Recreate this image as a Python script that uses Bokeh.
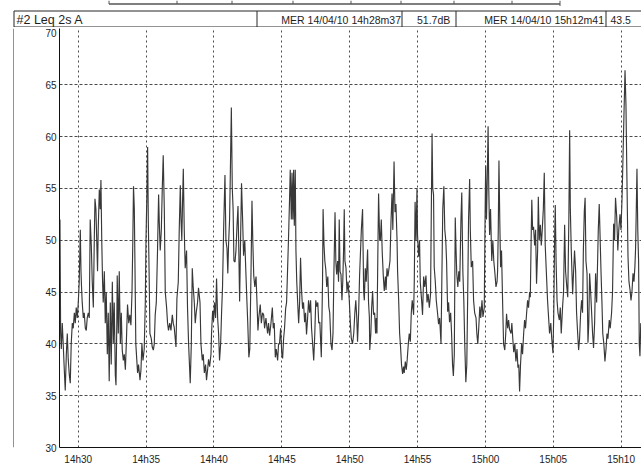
from bokeh.plotting import figure
from bokeh.models import FixedTicker, Range1d
from bokeh.layouts import column, row
from bokeh.embed import file_html
from bokeh.resources import INLINE
from bokeh.core.properties import value

# ---------------- data ----------------
# time in minutes after 14h00, Leq 2s A level in dB
times_min = [
    28.60, 28.65, 28.70, 28.75, 28.82, 28.89, 28.97, 29.04, 29.12, 29.19, 29.26, 29.34, 29.41, 29.48,
    29.56, 29.63, 29.71, 29.78, 29.85, 29.93, 30.00, 30.07, 30.15, 30.20, 30.24, 30.29, 30.37, 30.44,
    30.52, 30.59, 30.66, 30.74, 30.81, 30.88, 30.96, 31.03, 31.11, 31.18, 31.23, 31.30, 31.36, 31.42,
    31.47, 31.55, 31.62, 31.67, 31.73, 31.79, 31.84, 31.92, 31.99, 32.06, 32.14, 32.21, 32.28, 32.36,
    32.43, 32.51, 32.58, 32.65, 32.73, 32.78, 32.84, 32.87, 32.95, 33.02, 33.10, 33.17, 33.24, 33.32,
    33.39, 33.47, 33.54, 33.63, 33.72, 33.80, 33.88, 33.96,
    34.02, 34.07, 34.13, 34.18, 34.24, 34.31, 34.37, 34.44, 34.55, 34.62, 34.69, 34.77, 34.86, 34.94,
    34.99, 35.05, 35.11, 35.16, 35.23, 35.28, 35.38, 35.45, 35.53, 35.60, 35.67, 35.75, 35.84, 35.92,
    35.97, 36.04, 36.12, 36.19, 36.26, 36.34, 36.41, 36.51, 36.58, 36.65, 36.74, 36.83, 36.93, 37.00,
    37.07, 37.20, 37.27, 37.37, 37.44, 37.52, 37.57, 37.63, 37.69, 37.74, 37.81, 37.88, 37.98, 38.05,
    38.13, 38.25, 38.33, 38.40, 38.47, 38.55, 38.62, 38.69, 38.79, 38.86, 38.97, 39.04, 39.14, 39.21,
    39.29, 39.38, 39.45, 39.53,
    39.60, 39.68, 39.78, 39.82, 39.90, 39.97, 40.04, 40.12, 40.19, 40.27, 40.34, 40.41, 40.49, 40.56,
    40.63, 40.71, 40.81, 40.88, 40.96, 41.02, 41.08, 41.15, 41.20, 41.28, 41.35, 41.41, 41.47, 41.55,
    41.62, 41.70, 41.77, 41.83, 41.89, 41.96, 42.03, 42.11, 42.18, 42.27, 42.34, 42.43, 42.49, 42.57,
    42.64, 42.73, 42.80, 42.86, 42.93, 43.01, 43.10, 43.17, 43.24, 43.30, 43.41, 43.49, 43.58, 43.66,
    43.73, 43.83, 43.95, 44.02, 44.10, 44.20, 44.30, 44.37, 44.44, 44.52, 44.59, 44.69, 44.76, 44.83,
    44.91, 45.00,
    45.06, 45.13, 45.20, 45.28, 45.35, 45.42, 45.50, 45.57, 45.62, 45.70, 45.75, 45.81, 45.87, 45.92,
    45.99, 46.04, 46.10, 46.16, 46.24, 46.31, 46.38, 46.46, 46.53, 46.60, 46.68, 46.75, 46.82, 46.90,
    46.97, 47.05, 47.12, 47.19, 47.27, 47.35, 47.43, 47.50, 47.58, 47.65, 47.72, 47.80, 47.91, 48.00,
    48.04, 48.11, 48.17, 48.24, 48.31, 48.39, 48.46, 48.53, 48.62, 48.70, 48.77, 48.84, 48.92, 48.98,
    49.04, 49.11, 49.18, 49.23, 49.29, 49.36, 49.43, 49.49, 49.55, 49.60, 49.65, 49.73, 49.80, 49.88,
    49.97, 50.05, 50.12, 50.21, 50.30, 50.38,
    50.45, 50.52, 50.58, 50.66, 50.73, 50.80, 50.86, 50.95, 51.03, 51.08, 51.15, 51.22, 51.32, 51.39,
    51.45, 51.48, 51.56, 51.62, 51.69, 51.76, 51.84, 51.91, 51.96, 52.01, 52.07, 52.13, 52.21, 52.26,
    52.33, 52.40, 52.48, 52.55, 52.63, 52.68, 52.75, 52.82, 52.90, 52.97, 53.05, 53.12, 53.18, 53.27,
    53.34, 53.41, 53.49, 53.53, 53.61, 53.68, 53.75, 53.82, 53.90, 53.97, 54.02, 54.10, 54.17, 54.24,
    54.32, 54.39, 54.47, 54.54, 54.61, 54.71, 54.76, 54.82, 54.89, 54.96, 55.00, 55.08, 55.15, 55.20,
    55.30, 55.37, 55.45, 55.53, 55.62, 55.70, 55.78, 55.87, 55.96,
    56.01, 56.07, 56.12, 56.18, 56.23, 56.31, 56.38, 56.48, 56.55, 56.63, 56.73, 56.79, 56.86, 56.94,
    57.01, 57.08, 57.14, 57.22, 57.29, 57.36, 57.44, 57.51, 57.58, 57.64, 57.71, 57.78, 57.84, 57.89,
    57.97, 58.04, 58.11, 58.20, 58.26, 58.34, 58.41, 58.48, 58.56, 58.63, 58.70, 58.76, 58.84, 58.89,
    58.96, 59.06, 59.13, 59.21, 59.31, 59.37, 59.44, 59.51, 59.59, 59.66, 59.75, 59.82, 59.92, 59.96,
    60.02, 60.08, 60.14, 60.20, 60.25, 60.31, 60.38, 60.47, 60.55, 60.62, 60.69, 60.78, 60.86, 60.90,
    60.95, 61.00, 61.06, 61.12, 61.19, 61.27, 61.34, 61.43, 61.50, 61.56, 61.64,
    61.71, 61.78, 61.89, 61.95, 62.02, 62.09, 62.17, 62.25, 62.33, 62.40, 62.46, 62.52, 62.59, 62.67,
    62.74, 62.82, 62.89, 62.96, 63.04, 63.11, 63.18, 63.26, 63.31, 63.36, 63.42, 63.48, 63.55, 63.63,
    63.70, 63.77, 63.85, 63.90, 63.97, 64.05, 64.12, 64.19, 64.27, 64.34, 64.41, 64.49, 64.58, 64.66,
    64.73, 64.82, 64.89, 64.98, 65.04, 65.10, 65.15, 65.21, 65.28, 65.35, 65.45, 65.52, 65.59, 65.69,
    65.76, 65.84, 65.91, 66.00, 66.07, 66.15, 66.21, 66.26, 66.33, 66.43, 66.50, 66.57, 66.65, 66.72,
    66.80, 66.87, 66.94, 67.02, 67.09, 67.16,
    67.22, 67.29, 67.35, 67.41, 67.49, 67.56, 67.62, 67.68, 67.75, 67.83, 67.90, 67.97, 68.05, 68.12,
    68.20, 68.27, 68.32, 68.39, 68.47, 68.52, 68.59, 68.65, 68.73, 68.81, 68.89, 68.96, 69.03, 69.13,
    69.20, 69.30, 69.37, 69.45, 69.52, 69.59, 69.68, 69.76, 69.83, 69.92, 69.99, 70.07, 70.14, 70.21,
    70.29, 70.36, 70.43, 70.51, 70.58, 70.66, 70.73, 70.80, 70.88, 70.95, 71.02, 71.07, 71.12, 71.17,
    71.23, 71.29, 71.34, 71.39, 71.45,
]

leq_db = [
    42, 52, 41, 39.5, 42, 40, 37.5, 35.5, 39, 41, 38.5, 37, 36.2, 40,
    42, 41.5, 43, 42, 43.5, 42.5, 44, 46, 51, 47, 45.5, 44, 42.5, 43,
    41.5, 41.3, 42.5, 43, 42.5, 52, 49.5, 46, 43.5, 50, 54, 53, 50, 47,
    51, 54.9, 53, 55.8, 50, 46, 44, 47, 42, 45, 39, 43, 36.4, 44,
    38, 46, 40, 44, 37, 36, 42, 46.6, 41, 47, 40, 43, 39.4, 38.4,
    39, 37.5, 40, 43.8, 42, 42.8, 41.8, 45,
    50, 55.2, 53, 47.3, 40, 38.5, 37.2, 38, 36.5, 37.5, 40, 38.4, 39.5, 44,
    50, 54, 59, 52, 46, 41, 40.5, 39.7, 39.4, 40, 42.8, 44, 49, 54.4,
    51.7, 49, 51, 55, 58.2, 53, 45, 43.5, 42, 41.3, 42, 41.3, 42.8, 42,
    41.6, 39.7, 44.4, 46, 51, 55.3, 52, 50, 54, 56.9, 51, 47.3, 49, 43.5,
    40, 36.2, 40, 47.3, 45.5, 44, 42, 43, 44, 45.4, 44, 40, 38.4, 39,
    37.2, 38, 36.5, 37.5,
    38.5, 37.8, 39, 41, 43.2, 42.2, 44, 42.5, 46.3, 42.5, 41, 38.4, 40, 43,
    45.5, 51, 56.3, 50, 49.2, 46.8, 49.8, 52, 56, 62.8, 55, 53, 48, 47.9,
    49, 51.5, 53.3, 49, 44.1, 50, 55.5, 52, 48.5, 50, 47.3, 44, 42, 38.7,
    39.5, 47, 53.8, 50, 46.6, 45.5, 46.5, 44, 41.3, 42.5, 43.8, 42, 43, 42.8,
    41.5, 42.5, 41, 42, 40.8, 42, 43.5, 41.5, 42, 38.7, 39.5, 38.4, 40, 40,
    41.5, 39,
    38.6, 40.5, 41.5, 43.4, 44, 47, 50.5, 54, 56.8, 52, 56.5, 52, 56.8, 51.4,
    56.8, 49, 46, 44.2, 42, 44, 48.3, 45, 43.4, 44, 42.1, 43, 40.9, 42.5,
    44.2, 43, 44.2, 41.5, 40, 38.4, 41, 44.2, 43.6, 44, 42, 42.1, 38.7, 46,
    53, 49.5, 48, 47.2, 45.5, 46.5, 43.6, 43, 40, 39.4, 41, 47, 52.7, 48,
    46.7, 48, 46, 52, 47, 46.7, 44.2, 46, 49, 53, 48, 47.3, 45, 46,
    44.2, 42, 40.5, 40, 41, 43,
    44.2, 42.6, 40.2, 43, 46.6, 49, 51, 53, 45, 44.2, 47.3, 46, 49.1, 44,
    42.6, 39.4, 41, 43.5, 45.1, 42.8, 43, 41, 42.5, 41, 48, 54.5, 50, 50,
    52, 48.8, 46.5, 45.1, 46.5, 45.2, 47.3, 46.5, 47.3, 48, 52, 54.5, 51, 57.6,
    52.7, 53.5, 50, 47, 44.2, 41, 39.7, 38, 37.1, 37.8, 37.2, 38.3, 37.5, 38.5,
    40, 41, 40.2, 43, 44.2, 42.8, 46, 53.7, 50, 55, 50.5, 48.4, 50, 46,
    44.2, 42.8, 46.5, 45.5, 46.6, 44, 44.8, 43.5, 44.8,
    52, 60.3, 55, 54.4, 47.4, 46, 44.2, 42.9, 41.9, 42.5, 40, 46, 53, 55.2,
    51, 50, 48, 43.1, 44, 42.1, 43, 41, 38, 36.9, 39, 52.2, 49, 46.8,
    45.5, 47, 46, 52, 54.6, 47, 44.2, 40, 36.3, 38, 45, 52, 55.9, 51,
    47.4, 48, 44.2, 43, 42.5, 41, 40, 41.5, 43.6, 42.5, 44.2, 42.6, 43.5, 50,
    57.2, 52, 56, 61, 55, 50.5, 53, 48, 50, 48, 47, 45.5, 46, 47,
    51, 57.7, 52, 47.4, 49, 44, 40, 39.4, 41, 42.9, 41.5,
    42.3, 41.4, 41, 42, 40.5, 39.2, 40, 38.3, 39.5, 37.7, 38, 35.4, 38, 40,
    39, 41, 42.3, 41.5, 43, 44.2, 43.5, 45, 44.5, 49, 53.9, 51, 51.3, 49.5,
    51, 45.8, 49, 54.2, 50, 51.5, 49.5, 51, 53, 56.5, 49.5, 47, 44.2, 42.5,
    41, 42, 40.5, 39.1, 43, 50, 53.4, 48, 44.2, 43, 42.3, 43.5, 41, 43.6,
    45, 51.5, 47, 45.5, 44.5, 52, 60.6, 53, 49, 44.8, 47, 49, 47, 43,
    41, 39.4, 40.5, 43, 44.2, 43,
    49, 52.8, 54.1, 48, 46.8, 40.1, 42, 46.8, 45.2, 43, 41, 39.6, 42, 46.8,
    44, 48, 51, 53.5, 49.5, 47, 44, 41, 40, 38.3, 39.5, 41, 40.5, 42.3,
    41.5, 43, 45, 51.6, 50, 54.1, 52.2, 49, 51, 52.5, 51, 54, 58, 62,
    66.4, 63, 56, 48.4, 46, 45.2, 44.2, 45, 46.8, 46, 47.5, 49.3, 53, 56.9,
    51, 48, 40, 38.8, 42,
]

x_tick_minutes = [30, 35, 40, 45, 50, 55, 60, 65, 70]
x_tick_labels = ["14h30", "14h35", "14h40", "14h45", "14h50", "14h55", "15h00", "15h05", "15h10"]
y_ticks = [30, 35, 40, 45, 50, 55, 60, 65, 70]

header_channel = "#2 Leq 2s A"
start_stamp = "MER 14/04/10 14h28m37"
start_level = "51.7dB"
end_stamp = "MER 14/04/10 15h12m41"
end_level = "43.5"

FONT = "Liberation Sans"
INK = "#1e1e1e"
RULE = "#262626"

# ---------------- header strip (page pixels as coordinates) ----------------
HW, HH = 641, 27
hdr = figure(width=HW, height=HH, output_backend="svg", toolbar_location=None, title=None,
             x_range=Range1d(0, HW), y_range=Range1d(HH, 0),
             x_axis_type=None, y_axis_type=None,
             min_border=0, min_border_left=0, min_border_right=0,
             min_border_top=0, min_border_bottom=0)
hdr.grid.visible = False
hdr.outline_line_color = None
hdr.background_fill_color = "white"
hdr.border_fill_color = "white"

# cut-off table edge at the very top
tx = [108.5, 176.5, 231.5, 292.5, 350.5, 400.5, 453.5, 511.5, 559.5]
hdr.segment(x0=[108.5], y0=[3.5], x1=[559.5], y1=[3.5], line_color="#555555", line_width=1.4)
hdr.segment(x0=tx, y0=[0] * len(tx), x1=tx, y1=[3.5] * len(tx), line_color="#555555", line_width=1)
hdr.segment(x0=[559.5], y0=[3.5], x1=[559.5], y1=[5.5], line_color="#555555", line_width=1)

# header box
hdr.segment(x0=[13.5, 13.5], y0=[10.5, 26.5], x1=[HW, HW], y1=[10.5, 26.5],
            line_color=RULE, line_width=1)
dx = [13.5, 256.5, 401.5, 455.5, 605.5]
hdr.segment(x0=dx, y0=[10.5] * len(dx), x1=dx, y1=[HH] * len(dx), line_color=RULE, line_width=1)
hdr.segment(x0=[13.5], y0=[26.5], x1=[13.5], y1=[HH], line_color=RULE, line_width=1)

hdr.text(x=[16], y=[19], text=[header_channel], text_font=value(FONT), text_font_size="12.5px",
         text_color=INK, text_baseline="middle", text_align="left")
hdr.text(x=[400.5], y=[19], text=[start_stamp], text_font=value(FONT), text_font_size="10.5px",
         text_color=INK, text_baseline="middle", text_align="right")
hdr.text(x=[416.5], y=[19], text=[start_level], text_font=value(FONT), text_font_size="10.5px",
         text_color=INK, text_baseline="middle", text_align="left")
hdr.text(x=[603.5], y=[19], text=[end_stamp], text_font=value(FONT), text_font_size="10.5px",
         text_color=INK, text_baseline="middle", text_align="right")
hdr.text(x=[610], y=[19], text=[end_level], text_font=value(FONT), text_font_size="10.5px",
         text_color=INK, text_baseline="middle", text_align="left")

# ---------------- left border strip ----------------
SW, SH = 14, 440
strip = figure(width=SW, height=SH, output_backend="svg", toolbar_location=None, title=None,
               x_range=Range1d(0, SW), y_range=Range1d(0, SH),
               x_axis_type=None, y_axis_type=None,
               min_border=0, min_border_left=0, min_border_right=0,
               min_border_top=0, min_border_bottom=0)
strip.grid.visible = False
strip.outline_line_color = None
strip.background_fill_color = "white"
strip.border_fill_color = "white"
strip.segment(x0=[13.5], y0=[0], x1=[13.5], y1=[SH], line_color=RULE, line_width=1)

# ---------------- main chart ----------------
W, H = 641 - SW, SH
ML, MR, MT, MB = 45, 0, 1, 18
FW = W - ML - MR
X0 = 28 + 37 / 60.0            # 14h28m37, start of the measurement
X1 = X0 + FW * 0.07369          # visible end (the chart is cut at the right)

p = figure(width=W, height=H, output_backend="svg", toolbar_location=None, title=None,
           x_range=Range1d(X0, X1), y_range=Range1d(30, 70.43),
           min_border_left=ML, min_border_right=MR, min_border_top=MT, min_border_bottom=MB)
p.outline_line_color = None
p.background_fill_color = "white"
p.border_fill_color = "white"

p.xgrid.ticker = FixedTicker(ticks=x_tick_minutes)
p.xgrid.grid_line_color = "#4a4a4a"
p.xgrid.grid_line_dash = "2 3"
p.xgrid.grid_line_width = 1
p.ygrid.ticker = FixedTicker(ticks=y_ticks[1:-1])
p.ygrid.grid_line_color = "#4a4a4a"
p.ygrid.grid_line_dash = "3 2"
p.ygrid.grid_line_width = 1

for ax in (p.xaxis, p.yaxis):
    ax.axis_line_color = "#111111"
    ax.axis_line_width = 1
    ax.major_tick_line_color = None
    ax.minor_tick_line_color = None
    ax.major_tick_out = 0
    ax.major_tick_in = 0
    ax.major_label_text_font = FONT
    ax.major_label_text_font_size = "10px"
    ax.major_label_text_color = INK
p.xaxis.ticker = FixedTicker(ticks=x_tick_minutes)
p.xaxis.major_label_overrides = {t: s for t, s in zip(x_tick_minutes, x_tick_labels)}
p.xaxis.major_label_standoff = 6
p.yaxis.ticker = FixedTicker(ticks=y_ticks)
p.yaxis.major_label_standoff = 3

p.line(times_min, leq_db, line_color="#383838", line_width=1.15)

layout = column(hdr, row(strip, p, spacing=0), spacing=0)
open("out.html", "w").write(file_html(layout, INLINE))
